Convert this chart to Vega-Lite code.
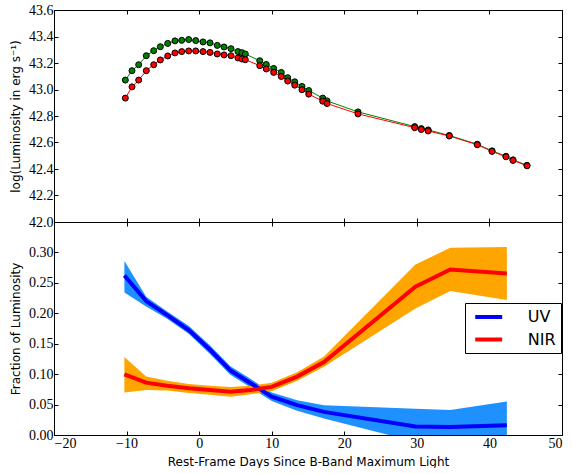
{
  "$schema": "https://vega.github.io/schema/vega-lite/v6.json",
  "padding": {"left": 9, "top": 2, "right": 0, "bottom": 0},
  "background": "white",
  "spacing": 0,
  "bounds": "flush",
  "datasets": {
    "lum": [
      {"day": -10.17, "series": "g", "logL": 43.071}, {"day": -9.25, "series": "g", "logL": 43.142}, {"day": -8.33, "series": "g", "logL": 43.187}, {"day": -7.28, "series": "g", "logL": 43.255}, {"day": -6.26, "series": "g", "logL": 43.293}, {"day": -5.35, "series": "g", "logL": 43.323}, {"day": -4.33, "series": "g", "logL": 43.348}, {"day": -3.33, "series": "g", "logL": 43.367}, {"day": -2.40, "series": "g", "logL": 43.371}, {"day": -1.44, "series": "g", "logL": 43.377}, {"day": -0.47, "series": "g", "logL": 43.369}, {"day": 0.53, "series": "g", "logL": 43.359}, {"day": 1.50, "series": "g", "logL": 43.352}, {"day": 2.50, "series": "g", "logL": 43.333}, {"day": 3.43, "series": "g", "logL": 43.321}, {"day": 4.39, "series": "g", "logL": 43.308}, {"day": 5.35, "series": "g", "logL": 43.286}, {"day": 5.90, "series": "g", "logL": 43.278}, {"day": 6.36, "series": "g", "logL": 43.268}, {"day": 8.35, "series": "g", "logL": 43.217}, {"day": 9.25, "series": "g", "logL": 43.189}, {"day": 10.27, "series": "g", "logL": 43.159}, {"day": 11.32, "series": "g", "logL": 43.129}, {"day": 12.20, "series": "g", "logL": 43.089}, {"day": 13.17, "series": "g", "logL": 43.058}, {"day": 14.17, "series": "g", "logL": 43.023}, {"day": 15.10, "series": "g", "logL": 42.992}, {"day": 17.03, "series": "g", "logL": 42.935}, {"day": 17.62, "series": "g", "logL": 42.914}, {"day": 21.89, "series": "g", "logL": 42.831}, {"day": 29.70, "series": "g", "logL": 42.720}, {"day": 30.61, "series": "g", "logL": 42.705}, {"day": 31.56, "series": "g", "logL": 42.695}, {"day": 34.47, "series": "g", "logL": 42.653}, {"day": 38.33, "series": "g", "logL": 42.587}, {"day": 40.36, "series": "g", "logL": 42.537}, {"day": 42.28, "series": "g", "logL": 42.496}, {"day": 43.25, "series": "g", "logL": 42.469}, {"day": 45.18, "series": "g", "logL": 42.428},
      {"day": -10.17, "series": "r", "logL": 42.935}, {"day": -9.25, "series": "r", "logL": 43.020}, {"day": -8.33, "series": "r", "logL": 43.071}, {"day": -7.28, "series": "r", "logL": 43.142}, {"day": -6.26, "series": "r", "logL": 43.187}, {"day": -5.35, "series": "r", "logL": 43.223}, {"day": -4.33, "series": "r", "logL": 43.253}, {"day": -3.33, "series": "r", "logL": 43.276}, {"day": -2.40, "series": "r", "logL": 43.286}, {"day": -1.44, "series": "r", "logL": 43.291}, {"day": -0.47, "series": "r", "logL": 43.291}, {"day": 0.53, "series": "r", "logL": 43.286}, {"day": 1.50, "series": "r", "logL": 43.280}, {"day": 2.50, "series": "r", "logL": 43.268}, {"day": 3.43, "series": "r", "logL": 43.261}, {"day": 4.39, "series": "r", "logL": 43.255}, {"day": 5.35, "series": "r", "logL": 43.238}, {"day": 5.90, "series": "r", "logL": 43.230}, {"day": 6.36, "series": "r", "logL": 43.225}, {"day": 8.35, "series": "r", "logL": 43.180}, {"day": 9.25, "series": "r", "logL": 43.155}, {"day": 10.27, "series": "r", "logL": 43.129}, {"day": 11.32, "series": "r", "logL": 43.098}, {"day": 12.20, "series": "r", "logL": 43.064}, {"day": 13.17, "series": "r", "logL": 43.033}, {"day": 14.17, "series": "r", "logL": 42.998}, {"day": 15.10, "series": "r", "logL": 42.965}, {"day": 17.03, "series": "r", "logL": 42.912}, {"day": 17.62, "series": "r", "logL": 42.894}, {"day": 21.89, "series": "r", "logL": 42.816}, {"day": 29.70, "series": "r", "logL": 42.712}, {"day": 30.61, "series": "r", "logL": 42.698}, {"day": 31.56, "series": "r", "logL": 42.687}, {"day": 34.47, "series": "r", "logL": 42.649}, {"day": 38.33, "series": "r", "logL": 42.583}, {"day": 40.36, "series": "r", "logL": 42.533}, {"day": 42.28, "series": "r", "logL": 42.492}, {"day": 43.25, "series": "r", "logL": 42.465}, {"day": 45.18, "series": "r", "logL": 42.424}
    ],
    "frac": [
      {"day": -10.3, "band": "UV", "frac": 0.262, "lo": 0.234, "hi": 0.286},
      {"day": -7.3, "band": "UV", "frac": 0.220, "lo": 0.211, "hi": 0.227},
      {"day": -4.4, "band": "UV", "frac": 0.197, "lo": 0.191, "hi": 0.203},
      {"day": -1.4, "band": "UV", "frac": 0.172, "lo": 0.166, "hi": 0.179},
      {"day": 1.5, "band": "UV", "frac": 0.140, "lo": 0.133, "hi": 0.147},
      {"day": 4.3, "band": "UV", "frac": 0.106, "lo": 0.099, "hi": 0.113},
      {"day": 7.1, "band": "UV", "frac": 0.085, "lo": 0.078, "hi": 0.092},
      {"day": 10.0, "band": "UV", "frac": 0.063, "lo": 0.056, "hi": 0.070},
      {"day": 13.5, "band": "UV", "frac": 0.049, "lo": 0.040, "hi": 0.057},
      {"day": 17.2, "band": "UV", "frac": 0.038, "lo": 0.027, "hi": 0.049},
      {"day": 29.8, "band": "UV", "frac": 0.014, "lo": -0.011, "hi": 0.043},
      {"day": 34.6, "band": "UV", "frac": 0.013, "lo": -0.012, "hi": 0.041},
      {"day": 42.4, "band": "UV", "frac": 0.016, "lo": -0.020, "hi": 0.055},
      {"day": -10.3, "band": "NIR", "frac": 0.0997, "lo": 0.070, "hi": 0.128},
      {"day": -7.3, "band": "NIR", "frac": 0.086, "lo": 0.074, "hi": 0.096},
      {"day": -4.4, "band": "NIR", "frac": 0.081, "lo": 0.073, "hi": 0.089},
      {"day": -1.4, "band": "NIR", "frac": 0.077, "lo": 0.069, "hi": 0.084},
      {"day": 1.5, "band": "NIR", "frac": 0.074, "lo": 0.066, "hi": 0.081},
      {"day": 4.3, "band": "NIR", "frac": 0.071, "lo": 0.063, "hi": 0.079},
      {"day": 7.1, "band": "NIR", "frac": 0.074, "lo": 0.067, "hi": 0.081},
      {"day": 10.0, "band": "NIR", "frac": 0.079, "lo": 0.072, "hi": 0.086},
      {"day": 13.5, "band": "NIR", "frac": 0.096, "lo": 0.089, "hi": 0.103},
      {"day": 17.2, "band": "NIR", "frac": 0.120, "lo": 0.112, "hi": 0.129},
      {"day": 29.8, "band": "NIR", "frac": 0.2435, "lo": 0.208, "hi": 0.280},
      {"day": 34.6, "band": "NIR", "frac": 0.272, "lo": 0.2365, "hi": 0.3076},
      {"day": 42.4, "band": "NIR", "frac": 0.2655, "lo": 0.2217, "hi": 0.309}
    ]
  },
  "vconcat": [
    {
      "width": 508,
      "height": 212,
      "data": {"name": "lum"},
      "resolve": {"axis": {"x": "independent", "y": "independent"}},
      "layer": [
        {
          "transform": [{"filter": "datum.series === 'g'"}],
          "mark": {"type": "line", "color": "#008000", "strokeWidth": 1},
          "encoding": {
            "x": {"field": "day", "type": "quantitative", "scale": {"domain": [-20, 50], "nice": false, "zero": false},
                  "axis": {"orient": "bottom", "labels": false, "title": null, "values": [-20, -10, 0, 10, 20, 30, 40, 50]}},
            "y": {"field": "logL", "type": "quantitative", "scale": {"domain": [42, 43.6], "nice": false, "zero": false},
                  "axis": {"orient": "left", "title": "log(Luminosity in erg s⁻¹)", "values": [42, 42.2, 42.4, 42.6, 42.8, 43.0, 43.2, 43.4, 43.6], "format": ".1f"}}
          }
        },
        {
          "transform": [{"filter": "datum.series === 'r'"}],
          "mark": {"type": "line", "color": "#ff0000", "strokeWidth": 1},
          "encoding": {
            "x": {"field": "day", "type": "quantitative", "axis": null},
            "y": {"field": "logL", "type": "quantitative", "axis": null}
          }
        },
        {
          "transform": [{"filter": "datum.series === 'g'"}],
          "mark": {"type": "point", "shape": "circle", "filled": true, "fill": "#008000", "stroke": "black", "strokeWidth": 1, "size": 36, "opacity": 1},
          "encoding": {
            "x": {"field": "day", "type": "quantitative", "axis": null},
            "y": {"field": "logL", "type": "quantitative", "axis": null}
          }
        },
        {
          "transform": [{"filter": "datum.series === 'r'"}],
          "mark": {"type": "point", "shape": "circle", "filled": true, "fill": "#ff0000", "stroke": "black", "strokeWidth": 1, "size": 36, "opacity": 1},
          "encoding": {
            "x": {"field": "day", "type": "quantitative", "axis": null},
            "y": {"field": "logL", "type": "quantitative", "axis": null}
          }
        },
        {
          "transform": [{"filter": "datum.series === 'r'"}],
          "mark": {"type": "point", "opacity": 0},
          "encoding": {
            "x": {"field": "day", "type": "quantitative",
                  "axis": {"orient": "top", "labels": false, "title": null, "values": [-20, -10, 0, 10, 20, 30, 40, 50]}},
            "y": {"field": "logL", "type": "quantitative",
                  "axis": {"orient": "right", "labels": false, "title": null, "values": [42, 42.2, 42.4, 42.6, 42.8, 43.0, 43.2, 43.4, 43.6]}}
          }
        }
      ]
    },
    {
      "width": 508,
      "height": 213,
      "data": {"name": "frac"},
      "resolve": {"axis": {"x": "independent", "y": "independent"}},
      "layer": [
        {
          "transform": [{"filter": "datum.band === 'UV'"}],
          "mark": {"type": "area", "color": "#1e90ff", "opacity": 1, "clip": true},
          "encoding": {
            "x": {"field": "day", "type": "quantitative", "scale": {"domain": [-20, 50], "nice": false, "zero": false},
                  "axis": {"orient": "bottom", "title": "Rest-Frame Days Since B-Band Maximum Light", "values": [-20, -10, 0, 10, 20, 30, 40, 50], "format": "d", "labelPadding": 5, "titlePadding": 6}},
            "y": {"field": "lo", "type": "quantitative", "scale": {"domain": [0, 0.35], "nice": false, "zero": false},
                  "axis": {"orient": "left", "title": "Fraction of Luminosity", "values": [0, 0.05, 0.1, 0.15, 0.2, 0.25, 0.3], "format": ".2f"}},
            "y2": {"field": "hi"}
          }
        },
        {
          "transform": [{"filter": "datum.band === 'NIR'"}],
          "mark": {"type": "area", "color": "#ffa500", "opacity": 1, "clip": true},
          "encoding": {
            "x": {"field": "day", "type": "quantitative", "axis": null},
            "y": {"field": "lo", "type": "quantitative", "axis": null},
            "y2": {"field": "hi"}
          }
        },
        {
          "mark": {"type": "line", "strokeWidth": 4, "clip": true},
          "encoding": {
            "x": {"field": "day", "type": "quantitative", "axis": null},
            "y": {"field": "frac", "type": "quantitative", "axis": null},
            "color": {"field": "band", "type": "nominal",
                      "scale": {"domain": ["UV", "NIR"], "range": ["#0000ff", "#ff0000"]},
                      "legend": {"orient": "none", "title": null, "legendX": 411, "legendY": 293, "direction": "vertical"}}
          }
        },
        {
          "mark": {"type": "point", "opacity": 0},
          "encoding": {
            "x": {"field": "day", "type": "quantitative",
                  "axis": {"orient": "top", "labels": false, "title": null, "values": [-20, -10, 0, 10, 20, 30, 40, 50]}},
            "y": {"field": "frac", "type": "quantitative",
                  "axis": {"orient": "right", "labels": false, "title": null, "values": [0, 0.05, 0.1, 0.15, 0.2, 0.25, 0.3]}}
          }
        }
      ]
    }
  ],
  "config": {
    "view": {"stroke": "black", "strokeWidth": 1},
    "axis": {
      "domain": false, "grid": false,
      "tickColor": "black", "tickSize": -4, "tickWidth": 1,
      "labelFont": "Liberation Serif", "labelFontSize": 14, "labelColor": "black", "labelPadding": 5,
      "titleFont": "DejaVu Sans", "titleFontSize": 12, "titleFontWeight": "normal", "titleColor": "black", "titlePadding": 6
    },
    "legend": {
      "strokeColor": "black", "fillColor": "white", "padding": 5, "cornerRadius": 0,
      "labelFont": "DejaVu Sans", "labelFontSize": 16, "labelColor": "black",
      "symbolType": "M-2,0H2", "symbolSize": 182, "symbolStrokeWidth": 4, "symbolOffset": 9.7, "labelOffset": 30, "rowPadding": 5.5
    }
  }
}
